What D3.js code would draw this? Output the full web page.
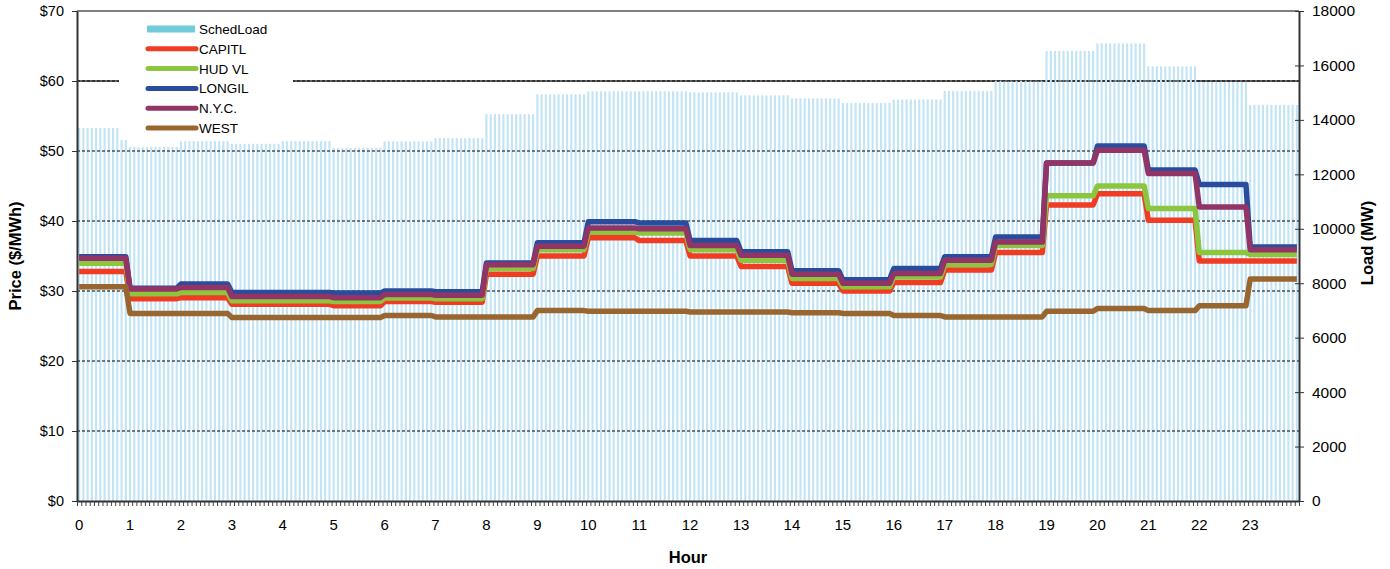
<!DOCTYPE html>
<html>
<head>
<meta charset="utf-8">
<script src="https://cdn.jsdelivr.net/npm/d3@7"></script>
<style>
  body { margin: 0; background: #fff; }
  svg { font-family: "Liberation Sans", Arial, sans-serif; }
</style>
</head>
<body>
<svg width="1390" height="569"></svg>
<script>
// hour labels on the x axis, 12 five-minute intervals per hour
const hours = d3.range(24);
const perHour = 12;

// scheduled load (MW), one value per hour
const schedLoad = [13700, 13010, 13220, 13120, 13220, 12970, 13210, 13330,
  14210, 14940, 15050, 15050, 15010, 14900, 14790, 14620,
  14750, 15060, 15430, 16530, 16810, 15970, 15390, 14550];

// zonal prices ($/MWh), one value per hour
const capitl = [32.8, 28.9, 29.05, 28.1, 28.1, 27.9, 28.5, 28.4, 32.4, 35.0, 37.6, 37.2,
  35.0, 33.5, 31.1, 30.0, 31.2, 33.0, 35.5, 42.3, 43.9, 40.1, 34.3, 34.3];
const hudvl = [33.95, 29.6, 29.8, 28.6, 28.6, 28.5, 29.0, 28.9, 33.2, 35.9, 38.4, 38.3,
  35.9, 34.4, 31.8, 30.6, 32.0, 33.8, 36.5, 43.6, 45.0, 41.8, 35.5, 35.2];
const longil = [34.9, 30.4, 31.0, 29.8, 29.8, 29.7, 30.0, 29.9, 34.0, 36.9, 39.9, 39.7,
  37.2, 35.6, 32.9, 31.6, 33.2, 34.9, 37.7, 48.3, 50.7, 47.3, 45.2, 36.3];
const nyc = [34.67, 30.3, 30.5, 29.2, 29.2, 29.05, 29.5, 29.4, 33.76, 36.4, 39.0, 38.9,
  36.5, 35.1, 32.4, 31.1, 32.5, 34.4, 37.0, 48.3, 50.1, 46.8, 42.0, 35.9];
const west = [30.6, 26.8, 26.8, 26.2, 26.2, 26.2, 26.5, 26.3, 26.3, 27.2, 27.1, 27.1,
  27.0, 27.0, 26.9, 26.8, 26.5, 26.3, 26.3, 27.1, 27.5, 27.2, 27.9, 31.7];

const seriesNames = ["CAPITL", "HUD VL", "LONGIL", "N.Y.C.", "WEST"];
const seriesValues = [capitl, hudvl, longil, nyc, west];
const seriesColors = ["#f03c23", "#8cc63f", "#2a4c9c", "#933466", "#99662f"];

const priceTicks = [0, 10, 20, 30, 40, 50, 60, 70];
const loadTicks = d3.range(0, 18001, 2000);

var svg = d3.select("svg");
var plotLeft = 77, plotRight = 1299, plotTop = 11, plotBottom = 501;

// each hourly value repeated across its 12 intervals
var slots = [];
hours.forEach(function (h) {
  for (var k = 0; k < perHour; k++) slots.push(h);
});
var idx = d3.range(slots.length);

var x = d3.scaleBand().domain(idx).range([plotLeft, plotRight]).paddingInner(0.5).paddingOuter(0.25);
var xLin = d3.scaleLinear().domain([0, slots.length]).range([plotLeft, plotRight]);
var yPrice = d3.scaleLinear().domain([0, 70]).range([plotBottom, plotTop]);
var yLoad = d3.scaleLinear().domain([0, 18000]).range([plotBottom, plotTop]);

// solid line at $60 sits behind the bars
svg.append("line")
  .attr("x1", plotLeft).attr("x2", plotRight)
  .attr("y1", yPrice(60)).attr("y2", yPrice(60))
  .attr("stroke", "#333").attr("stroke-width", 1.5);

// load bars
svg.append("g")
  .selectAll("rect")
  .data(idx)
  .enter().append("rect")
  .attr("x", function (i) { return x(i); })
  .attr("width", x.bandwidth())
  .attr("y", function (i) { return yLoad(schedLoad[slots[i]]); })
  .attr("height", function (i) { return plotBottom - yLoad(schedLoad[slots[i]]); })
  .attr("fill", "#c2e4f5");

// dashed gridlines
svg.append("g")
  .selectAll("line")
  .data(priceTicks.filter(function (d) { return d > 0 && d < 70; }))
  .enter().append("line")
  .attr("x1", plotLeft).attr("x2", plotRight)
  .attr("y1", function (d) { return yPrice(d); })
  .attr("y2", function (d) { return yPrice(d); })
  .attr("stroke", "#000").attr("stroke-width", 1)
  .attr("stroke-dasharray", "3,2");

// top border
svg.append("line")
  .attr("x1", plotLeft).attr("x2", plotRight).attr("y1", plotTop).attr("y2", plotTop)
  .attr("stroke", "#555").attr("stroke-width", 1.5);

// price lines
var line = d3.line()
  .x(function (i) { return x(i) + x.bandwidth() / 2; });

seriesValues.forEach(function (vals, s) {
  line.y(function (i) { return yPrice(vals[slots[i]]); });
  svg.append("path")
    .datum(idx)
    .attr("d", line)
    .attr("fill", "none")
    .attr("stroke", seriesColors[s])
    .attr("stroke-width", 5.5)
    .attr("stroke-linejoin", "round");
});

// axes
var fontFam = "Liberation Sans, Arial, sans-serif";

var xMinor = svg.append("g")
  .attr("transform", "translate(0," + plotBottom + ")")
  .call(d3.axisBottom(xLin).tickValues(d3.range(slots.length + 1)).tickSize(5).tickFormat(""));
xMinor.select(".domain").remove();
xMinor.selectAll("line").attr("stroke", "#444");

var xAxis = svg.append("g")
  .attr("transform", "translate(0," + plotBottom + ")")
  .call(d3.axisBottom(x)
    .tickValues(d3.range(0, slots.length, perHour))
    .tickFormat(function (i) { return slots[i]; })
    .tickSize(0).tickPadding(18));
xAxis.select(".domain").attr("stroke", "#333").attr("stroke-width", 2);
xAxis.selectAll("text").attr("font-size", 15).attr("fill", "#000")
  .style("font-family", fontFam);

var yAxisL = svg.append("g")
  .attr("transform", "translate(" + plotLeft + ",0)")
  .call(d3.axisLeft(yPrice).tickValues(priceTicks)
    .tickFormat(function (d) { return "$" + d; })
    .tickSize(5).tickPadding(8).tickSizeOuter(0));
yAxisL.select(".domain").attr("stroke", "#333").attr("stroke-width", 2);
yAxisL.selectAll("line").attr("stroke", "#333");
yAxisL.selectAll("text").attr("font-size", 14.5).attr("fill", "#000")
  .style("font-family", fontFam);

var yAxisR = svg.append("g")
  .attr("transform", "translate(" + plotRight + ",0)")
  .call(d3.axisRight(yLoad).tickValues(loadTicks)
    .tickFormat(d3.format("d"))
    .tickSize(5).tickPadding(8).tickSizeOuter(0));
yAxisR.select(".domain").attr("stroke", "#333").attr("stroke-width", 2);
yAxisR.selectAll(".tick line").attr("x1", -4).attr("stroke", "#333");
yAxisR.selectAll("text").attr("font-size", 15.5).attr("fill", "#000")
  .style("font-family", fontFam);

// axis titles
svg.append("text")
  .attr("transform", "translate(21,256) rotate(-90)")
  .attr("text-anchor", "middle")
  .attr("font-size", 16.5).attr("font-weight", "bold")
  .text("Price ($/MWh)");

svg.append("text")
  .attr("transform", "translate(1373,243) rotate(-90)")
  .attr("text-anchor", "middle")
  .attr("font-size", 16.5).attr("font-weight", "bold")
  .text("Load (MW)");

svg.append("text")
  .attr("x", 688).attr("y", 563)
  .attr("text-anchor", "middle")
  .attr("font-size", 16.5).attr("font-weight", "bold")
  .text("Hour");

// legend
var legend = svg.append("g");
legend.append("rect")
  .attr("x", 119).attr("y", 16).attr("width", 174).attr("height", 124)
  .attr("fill", "#fff");

var legendItems = ["SchedLoad"].concat(seriesNames);
var item = legend.selectAll("g.item")
  .data(legendItems)
  .enter().append("g")
  .attr("class", "item")
  .attr("transform", function (d, i) { return "translate(0," + (29 + i * 19.8) + ")"; });

item.each(function (d, i) {
  var g = d3.select(this);
  if (i === 0) {
    g.append("rect").attr("x", 147).attr("y", -3.5).attr("width", 48).attr("height", 7)
      .attr("fill", "#72cbdb");
  } else {
    g.append("line").attr("x1", 148).attr("x2", 196).attr("y1", 0).attr("y2", 0)
      .attr("stroke", seriesColors[i - 1]).attr("stroke-width", 5)
      .attr("stroke-linecap", "round");
  }
});

item.append("text")
  .attr("x", 199).attr("y", 5)
  .attr("font-size", 13.5)
  .text(function (d) { return d; });
</script>
</body>
</html>
